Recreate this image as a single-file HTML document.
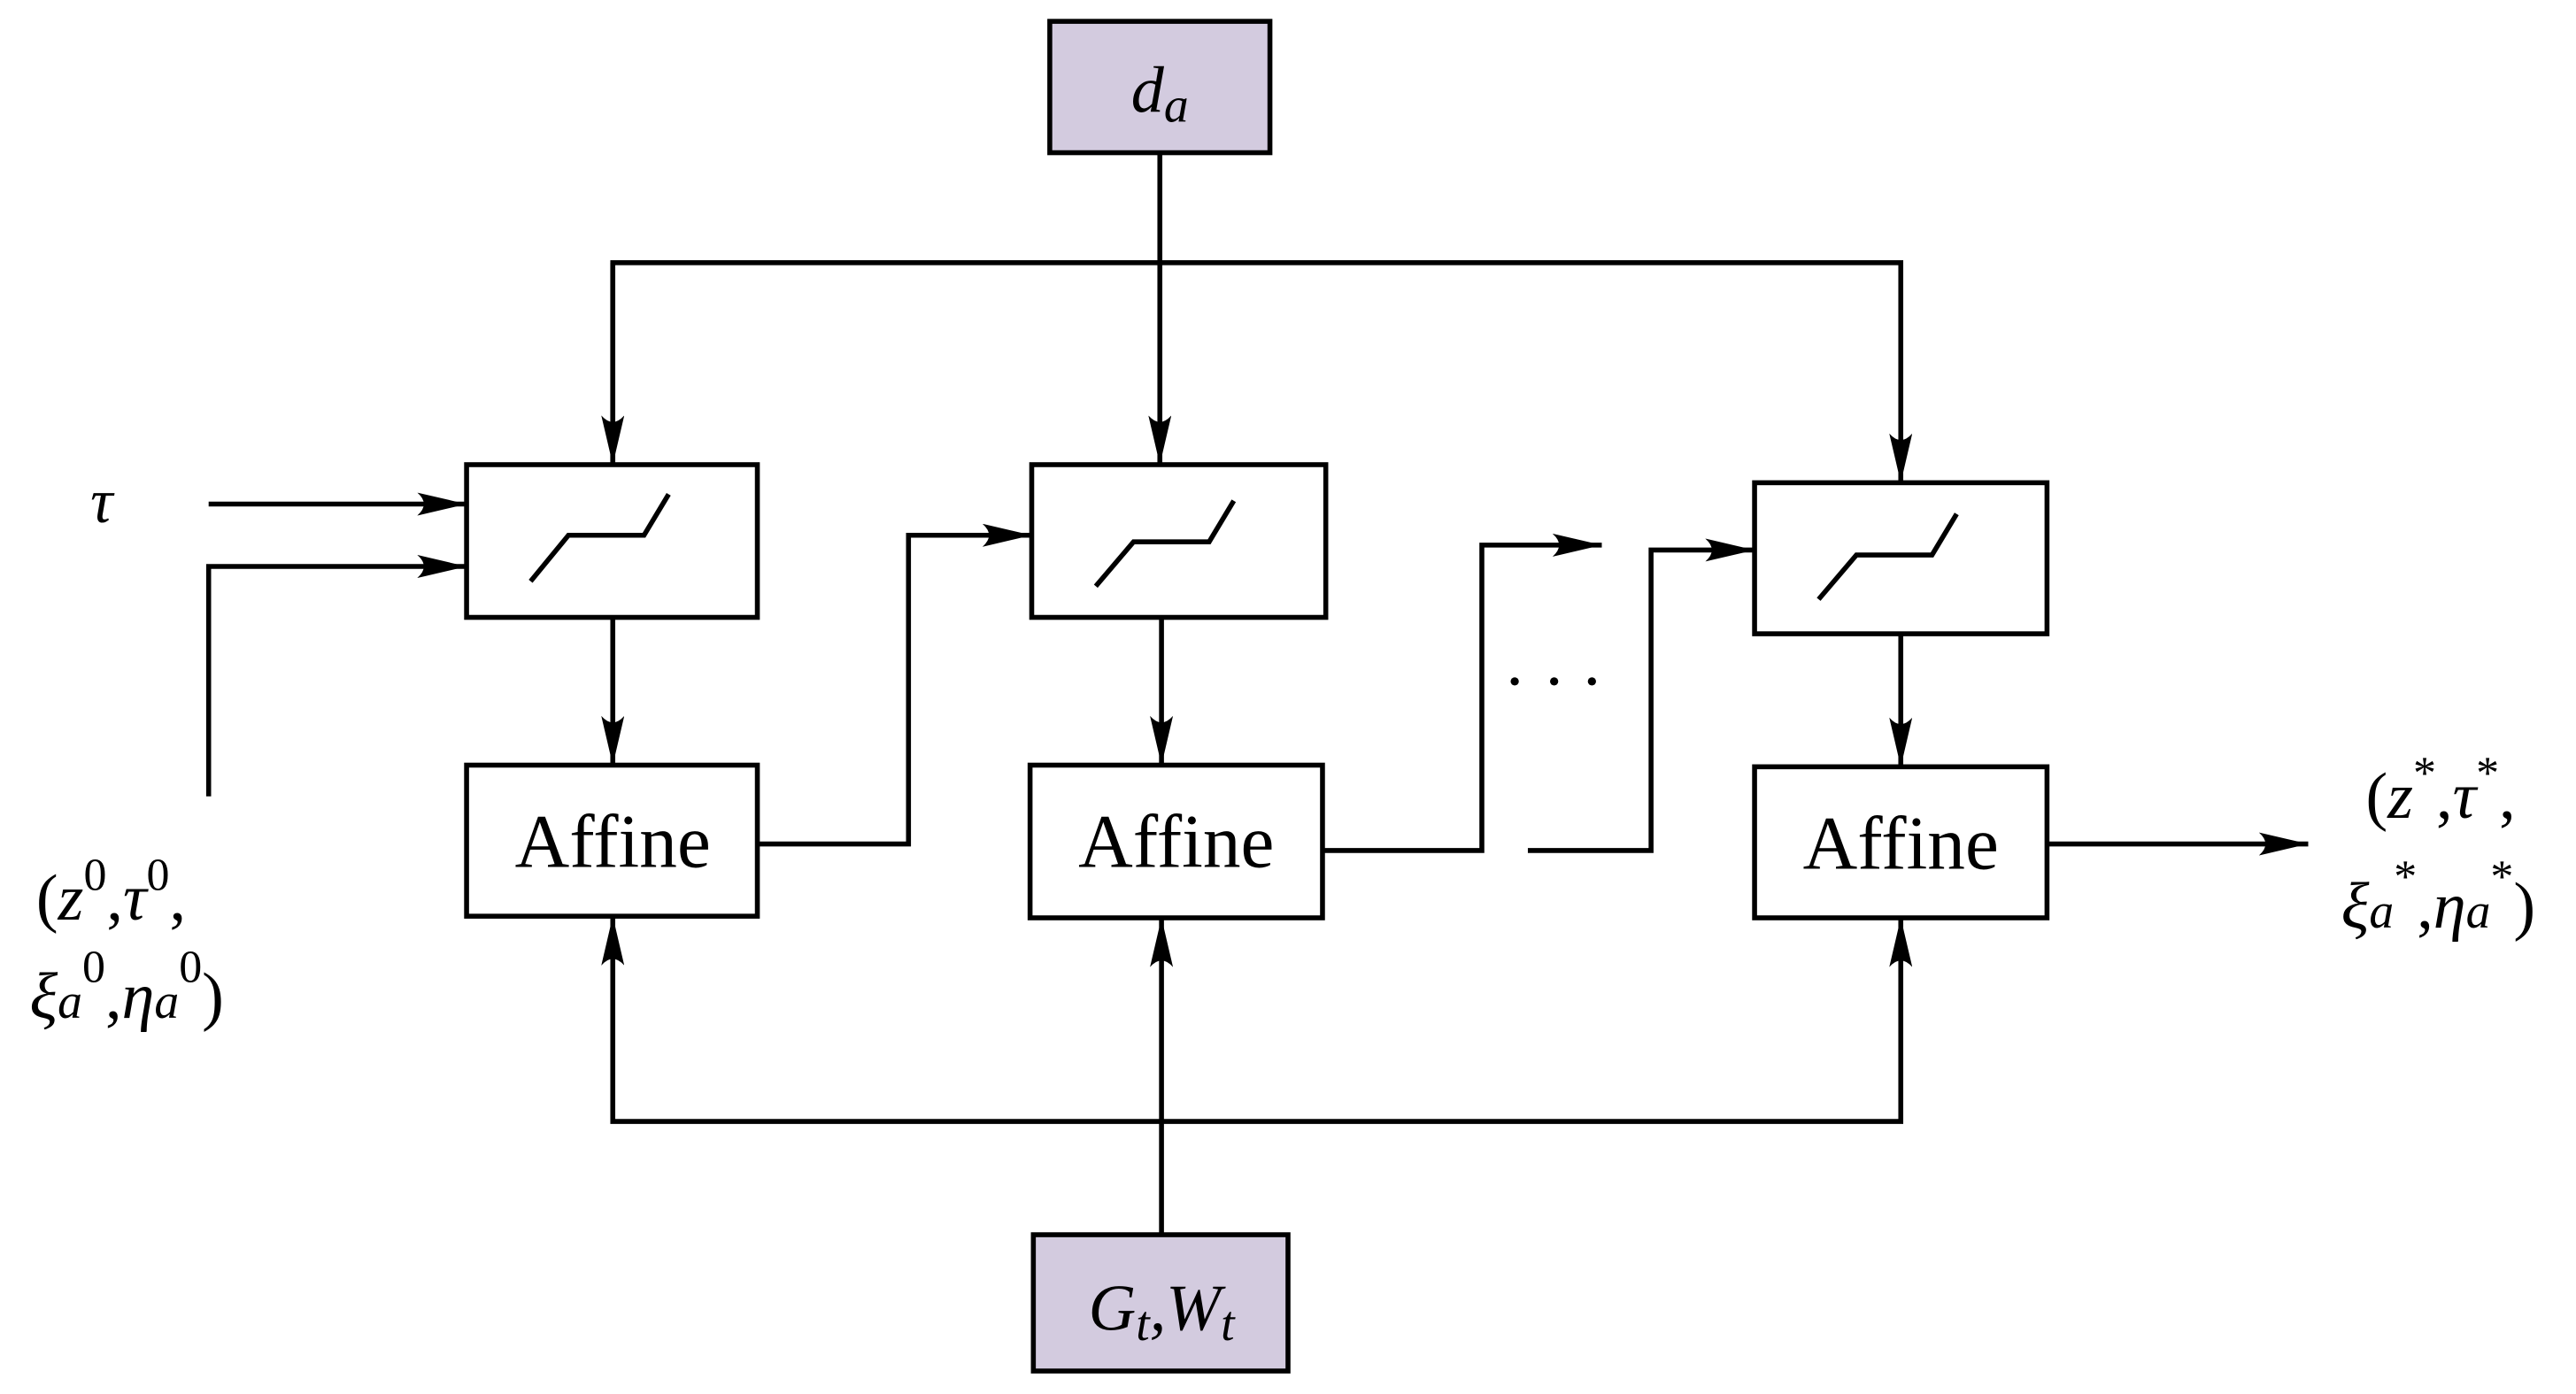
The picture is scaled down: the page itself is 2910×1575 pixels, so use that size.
<!DOCTYPE html>
<html><head><meta charset="utf-8"><style>
html,body{margin:0;padding:0;background:#fff;}
svg{display:block;}
text{font-family:"Liberation Serif",serif;fill:#000;}
</style></head><body>
<svg width="2910" height="1575" viewBox="0 0 1568 849" preserveAspectRatio="none" xmlns="http://www.w3.org/2000/svg">
<defs>
<marker id="a" viewBox="0 0 30 14" refX="30" refY="7" markerWidth="30" markerHeight="14" markerUnits="userSpaceOnUse" orient="auto">
<path d="M0,0 L30,7 L0,14 Q8,7 0,0 Z" fill="#000"/>
</marker>
</defs>
<g stroke="#000" stroke-width="3" fill="none" stroke-linejoin="miter">
<rect x="639" y="13" width="134" height="80" fill="#d3cbdf"/>
<rect x="629" y="752" width="155" height="83" fill="#d3cbdf"/>
<rect x="284" y="283" width="177" height="93" fill="#fff"/>
<rect x="284" y="466" width="177" height="92" fill="#fff"/>
<rect x="628" y="283" width="179" height="93" fill="#fff"/>
<rect x="627" y="466" width="178" height="93" fill="#fff"/>
<rect x="1068" y="294" width="178" height="92" fill="#fff"/>
<rect x="1068" y="467" width="178" height="92" fill="#fff"/>
<!-- saturation glyphs -->
<polyline points="323,354 346,326 392,326 407,301"/>
<polyline points="667,357 690,330 736,330 751,305"/>
<polyline points="1107,365 1130,338 1176,338 1191,313"/>
<!-- top distribution -->
<line x1="706" y1="93" x2="706" y2="283" marker-end="url(#a)"/>
<polyline points="373,283 373,160 1157,160 1157,294" marker-end="url(#a)"/>
<line x1="373" y1="160" x2="373" y2="283" marker-end="url(#a)"/>
<!-- sat to affine -->
<line x1="373" y1="376" x2="373" y2="466" marker-end="url(#a)"/>
<line x1="707" y1="376" x2="707" y2="466" marker-end="url(#a)"/>
<line x1="1157" y1="386" x2="1157" y2="467" marker-end="url(#a)"/>
<!-- bottom distribution -->
<line x1="707" y1="752" x2="707" y2="559" marker-end="url(#a)"/>
<polyline points="707,683 373,683 373,558" marker-end="url(#a)"/>
<polyline points="707,683 1157,683 1157,559" marker-end="url(#a)"/>
<!-- inputs -->
<line x1="127" y1="307" x2="284" y2="307" marker-end="url(#a)"/>
<polyline points="127,485 127,345 284,345" marker-end="url(#a)"/>
<!-- chain -->
<polyline points="461,514 553,514 553,326 628,326" marker-end="url(#a)"/>
<polyline points="805,518 902,518 902,332 975,332" marker-end="url(#a)"/>
<polyline points="930,518 1005,518 1005,335 1068,335" marker-end="url(#a)"/>
<line x1="1246" y1="514" x2="1405" y2="514" marker-end="url(#a)"/>
</g>
<circle cx="922" cy="415" r="2.5"/><circle cx="946" cy="415" r="2.5"/><circle cx="969" cy="415" r="2.5"/>
<text x="706" y="68" font-size="40" font-style="italic" text-anchor="middle">d<tspan font-size="30" dy="6">a</tspan></text>
<text x="707" y="810" font-size="40" font-style="italic" text-anchor="middle">G<tspan font-size="30" dy="6">t</tspan><tspan dy="-6">,</tspan>W<tspan font-size="30" dy="6">t</tspan></text>
<text x="373" y="528" font-size="46" text-anchor="middle">Affine</text>
<text x="716" y="528" font-size="46" text-anchor="middle">Affine</text>
<text x="1157" y="529" font-size="46" text-anchor="middle">Affine</text>
<text x="55" y="318" font-size="38" font-style="italic">τ</text>
<text x="22" y="560" font-size="40">(<tspan font-style="italic">z</tspan><tspan font-size="28" dy="-18">0</tspan><tspan dy="18">,</tspan><tspan font-style="italic">τ</tspan><tspan font-size="28" dy="-18">0</tspan><tspan dy="18">,</tspan></text>
<text x="18" y="620" font-size="40"><tspan font-style="italic">ξ</tspan><tspan font-style="italic" font-size="30">a</tspan><tspan font-size="28" dy="-22">0</tspan><tspan dy="22">,</tspan><tspan font-style="italic">η</tspan><tspan font-style="italic" font-size="30">a</tspan><tspan font-size="28" dy="-22">0</tspan><tspan dy="22">)</tspan></text>
<text x="1440" y="498" font-size="40">(<tspan font-style="italic">z</tspan><tspan font-size="28" dy="-18">*</tspan><tspan dy="18">,</tspan><tspan font-style="italic">τ</tspan><tspan font-size="28" dy="-18">*</tspan><tspan dy="18">,</tspan></text>
<text x="1425" y="565" font-size="40"><tspan font-style="italic">ξ</tspan><tspan font-style="italic" font-size="30">a</tspan><tspan font-size="28" dy="-22">*</tspan><tspan dy="22">,</tspan><tspan font-style="italic">η</tspan><tspan font-style="italic" font-size="30">a</tspan><tspan font-size="28" dy="-22">*</tspan><tspan dy="22">)</tspan></text>
</svg>
</body></html>
